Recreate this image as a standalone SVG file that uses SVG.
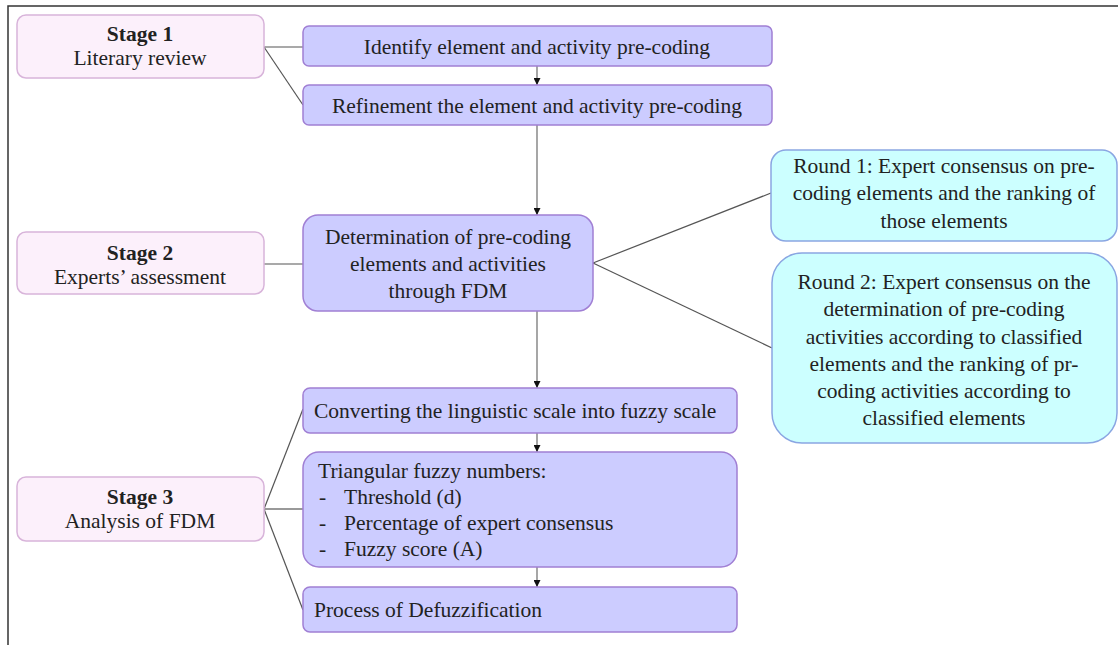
<svg xmlns="http://www.w3.org/2000/svg" width="1118" height="645" viewBox="0 0 1118 645">
<defs>
<style>
text{font-family:"Liberation Serif","Times New Roman",serif;font-size:21.5px;fill:#222;}
.c{text-anchor:middle;}
.b{font-weight:bold;}
.stage{fill:#fcf0fb;stroke:#d8b4da;stroke-width:1.5;}
.step{fill:#ccccff;stroke:#a07fd4;stroke-width:1.5;}
.round{fill:#ccffff;stroke:#8aa6e2;stroke-width:1.5;}
.ln{stroke:#555;stroke-width:1.2;fill:none;}
.ar{stroke:#777;stroke-width:1.3;fill:none;marker-end:url(#ah);}
.frame{stroke:#333;stroke-width:1.5;fill:none;}
</style>
<marker id="ah" viewBox="0 0 10 10" refX="10" refY="5" markerWidth="7" markerHeight="7" markerUnits="userSpaceOnUse" orient="auto">
<path d="M0,0 L10,5 L0,10 z" fill="#111"/>
</marker>
</defs>
<rect width="1118" height="645" fill="#fff"/>
<path class="frame" d="M8,645 V6 H1118"/>

<g id="connectors">
<line class="ln" x1="264" y1="47" x2="303" y2="47"/>
<line class="ln" x1="264" y1="47" x2="303" y2="105"/>
<line class="ar" x1="537" y1="66" x2="537" y2="85"/>
<line class="ar" x1="537" y1="125" x2="537" y2="215"/>
<line class="ln" x1="264" y1="264" x2="303" y2="264"/>
<line class="ln" x1="593" y1="263" x2="771" y2="193"/>
<line class="ln" x1="593" y1="263" x2="772" y2="348"/>
<line class="ar" x1="537" y1="311" x2="537" y2="388"/>
<line class="ar" x1="537" y1="433" x2="537" y2="452"/>
<line class="ar" x1="537" y1="567" x2="537" y2="587"/>
<line class="ln" x1="264" y1="509" x2="303" y2="409"/>
<line x1="264" y1="509" x2="303" y2="509" stroke="#999" stroke-width="2"/>
<line class="ln" x1="264" y1="509" x2="303" y2="610"/>
</g>

<g id="stage1">
<rect class="stage" x="17" y="15" width="247" height="63" rx="9"/>
<text class="c b" x="140" y="41">Stage 1</text>
<text class="c" x="140" y="65">Literary review</text>
</g>
<g id="identify">
<rect class="step" x="303" y="26" width="469" height="40" rx="6"/>
<text class="c" x="537" y="54">Identify element and activity pre-coding</text>
</g>
<g id="refinement">
<rect class="step" x="303" y="85" width="469" height="40" rx="6"/>
<text class="c" x="537" y="113">Refinement the element and activity pre-coding</text>
</g>

<g id="stage2">
<rect class="stage" x="17" y="232" width="247" height="62" rx="9"/>
<text class="c b" x="140" y="260">Stage 2</text>
<text class="c" x="140" y="284">Experts’ assessment</text>
</g>
<g id="determination">
<rect class="step" x="303" y="215" width="290" height="96" rx="15"/>
<text class="c" x="448" y="244">Determination of pre-coding</text>
<text class="c" x="448" y="271">elements and activities</text>
<text class="c" x="448" y="298">through FDM</text>
</g>
<g id="round1">
<rect class="round" x="771" y="150" width="346" height="91" rx="15"/>
<text class="c" x="944" y="173">Round 1: Expert consensus on pre-</text>
<text class="c" x="944" y="200">coding elements and the ranking of</text>
<text class="c" x="944" y="228">those elements</text>
</g>
<g id="round2">
<rect class="round" x="772" y="253" width="345" height="190" rx="30"/>
<text class="c" x="944" y="289">Round 2: Expert consensus on the</text>
<text class="c" x="944" y="316">determination of pre-coding</text>
<text class="c" x="944" y="344">activities according to classified</text>
<text class="c" x="944" y="371">elements and the ranking of pr-</text>
<text class="c" x="944" y="398">coding activities according to</text>
<text class="c" x="944" y="425">classified elements</text>
</g>

<g id="stage3">
<rect class="stage" x="17" y="477" width="247" height="64" rx="9"/>
<text class="c b" x="140" y="504">Stage 3</text>
<text class="c" x="140" y="528">Analysis of FDM</text>
</g>
<g id="converting">
<rect class="step" x="303" y="388" width="434" height="45" rx="7"/>
<text x="314" y="418">Converting the linguistic scale into fuzzy scale</text>
</g>
<g id="triangular">
<rect class="step" x="303" y="452" width="434" height="115" rx="16"/>
<text x="318" y="478">Triangular fuzzy numbers:</text>
<text x="319" y="504">-</text>
<text x="344" y="504">Threshold (d)</text>
<text x="319" y="530">-</text>
<text x="344" y="530">Percentage of expert consensus</text>
<text x="319" y="556">-</text>
<text x="344" y="556">Fuzzy score (A)</text>
</g>
<g id="defuzzification">
<rect class="step" x="303" y="587" width="434" height="45" rx="7"/>
<text x="314" y="617">Process of Defuzzification</text>
</g>
</svg>
